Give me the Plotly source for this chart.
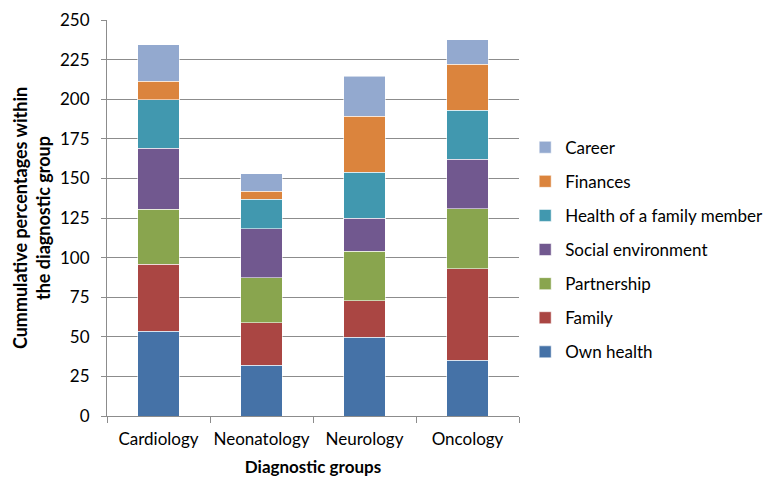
import plotly.graph_objects as go

categories = ["Cardiology", "Neonatology", "Neurology", "Oncology"]

own_health = [53.6, 31.9, 49.8, 35.3]
family = [42.2, 27.1, 22.9, 57.6]
partnership = [34.7, 28.4, 31.3, 38.0]
social_environment = [38.6, 30.7, 20.8, 31.1]
health_family_member = [30.7, 18.7, 29.2, 31.1]
finances = [11.5, 5.0, 35.3, 29.0]
career = [23.2, 11.1, 25.2, 15.5]

series = [
    ("Own health", own_health, "#4572A7"),
    ("Family", family, "#AA4643"),
    ("Partnership", partnership, "#89A54E"),
    ("Social environment", social_environment, "#71588F"),
    ("Health of a family member", health_family_member, "#4198AF"),
    ("Finances", finances, "#DB843D"),
    ("Career", career, "#93A9CF"),
]

FONT = "Lato, Calibri, Carlito, sans-serif"

fig = go.Figure()
n = len(series)
for i, (name, vals, color) in enumerate(series):
    fig.add_trace(go.Bar(
        x=categories, y=vals, name=name, legendgroup=f"g{i}",
        legendrank=n - i,
        marker=dict(color=color, line=dict(color="rgba(255,255,255,0.55)", width=1)),
    ))

# page body has an 8px margin, so the figure is sized to fit inside the window
fig.update_layout(
    width=764, height=472,
    barmode="stack", bargap=0.6,
    plot_bgcolor="white", paper_bgcolor="white",
    margin=dict(l=99, r=253, t=12, b=64, autoexpand=False),
    font=dict(family=FONT, size=17, color="#000000"),
    legend=dict(
        x=1.015, y=0.42, xanchor="left", yanchor="middle",
        traceorder="grouped", tracegroupgap=9,
        font=dict(size=17), itemwidth=30,
    ),
    showlegend=True,
)
fig.update_yaxes(
    range=[0, 250], dtick=25, showgrid=True, gridcolor="#8C8C8C", gridwidth=1,
    showline=True, linecolor="#8C8C8C", ticks="outside", ticklen=5, tickcolor="#8C8C8C",
    ticklabelstandoff=8, automargin=True,
    title=dict(text="<b>Cummulative percentages within<br>the diagnostic group</b>", font=dict(size=18), standoff=4),
    zeroline=False,
)
fig.update_xaxes(
    showline=True, linecolor="#8C8C8C", ticks="outside", ticklen=6, tickcolor="#8C8C8C",
    tickson="boundaries", automargin=False, ticklabelstandoff=8, tickangle=0,
    title=dict(text="<b>Diagnostic groups</b>", font=dict(size=17), standoff=12),
)

fig.write_html("out.html")
